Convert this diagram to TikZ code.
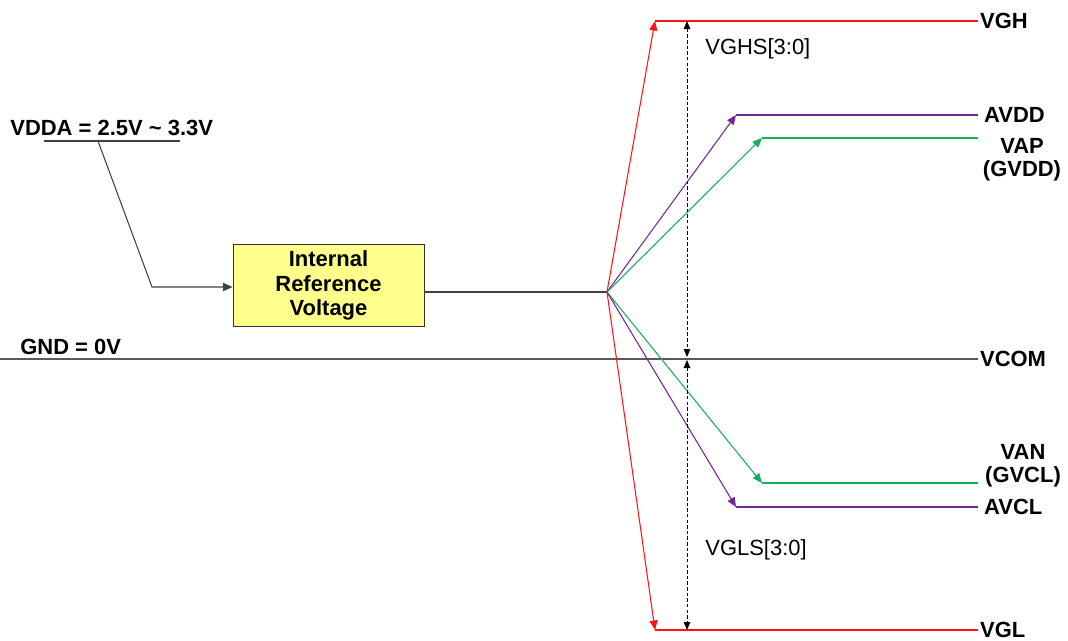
\documentclass[tikz,border=0pt]{standalone}
\usepackage{fontspec}
\setmainfont{Liberation Sans}
\usepackage{xcolor}
\usepackage{tikz}
\usetikzlibrary{arrows.meta, positioning, calc}
\definecolor{RailRed}{RGB}{255,20,20}
\definecolor{RailPurple}{RGB}{112,40,150}
\definecolor{RailGreen}{RGB}{20,175,90}
\definecolor{BoxYellow}{RGB}{255,255,140}
\tikzset{
    refbox/.style={rectangle, minimum width=3.82cm, minimum height=1.48cm, align=center,
        text centered, draw=black!80, fill=BoxYellow, font=\fontsize{12.5}{14}\selectfont\bfseries},
    railname/.style={anchor=west, inner sep=1pt, font=\fontsize{12.5}{14}\selectfont\bfseries},
    levelname/.style={inner sep=0pt, font=\fontsize{12.5}{14}\selectfont\bfseries},
    stepname/.style={anchor=west, inner sep=0pt, font=\fontsize{12.5}{14}\selectfont},
    feed/.style={-{Triangle[length=1.9mm, width=1.6mm]}, line width=0.6pt},
    rail/.style={line width=1.1pt},
    dimline/.style={{Triangle[length=1.6mm, width=1.3mm]}-{Triangle[length=1.6mm, width=1.3mm]},
        line width=0.5pt, dash pattern=on 2pt off 1.2pt},
    wire/.style={line width=0.6pt, black!75},
}
\begin{document}
\begin{tikzpicture}[x=0.02cm, y=-0.02cm]
    \useasboundingbox (0,0) rectangle (1068,640);

    % supply input and reference block
    \node[levelname, anchor=west] (vdda) at (10,128) {VDDA = 2.5V \textasciitilde\ 3.3V};
    \coordinate (ulineL) at (44,141);
    \coordinate (ulineR) at (180,141);
    \coordinate (tap) at (98,141);
    \coordinate (bend) at (152,287);
    \draw[wire] (ulineL) -- (ulineR);
    \node[refbox] (ref) at (328.5,285.5) {Internal\\Reference\\Voltage};
    \draw[wire, -{Triangle[length=1.9mm, width=1.6mm]}] (tap) -- (bend) -- (ref.west |- bend);

    \coordinate (hub) at (607,292);
    \draw[wire] (ref.east |- hub) -- (hub);

    % ground / common rail
    \node[levelname, anchor=west] (gnd) at (20,347) {GND = 0V};
    \coordinate (gndL) at (0,359);
    \node[railname] (vcom) at (978,359) {VCOM};
    \draw[line width=0.9pt, black!65] (gndL) -- (vcom.west);

    % output rails
    \coordinate (vghA) at (655,21);
    \coordinate (avddA) at (736,115);
    \coordinate (vapA) at (762,138);
    \coordinate (vanA) at (762,483);
    \coordinate (avclA) at (736,507);
    \coordinate (vglA) at (655,630);

    \node[railname] (vgh) at (978,21) {VGH};
    \node[railname] (avdd) at (982,115) {AVDD};
    \node[levelname] (vap) at (1022,146) {VAP};
    \node[levelname, below=3.5pt of vap] (gvdd) {(GVDD)};
    \node[levelname] (gvcl) at (1023,477) {(GVCL)};
    \node[levelname, above=3.5pt of gvcl] (van) {VAN};
    \node[railname] (avcl) at (982,507) {AVCL};
    \node[railname] (vgl) at (978,630) {VGL};

    \draw[feed, RailRed] (hub) -- (vghA);
    \draw[feed, RailPurple] (hub) -- (avddA);
    \draw[feed, RailGreen] (hub) -- (vapA);
    \draw[feed, RailGreen] (hub) -- (vanA);
    \draw[feed, RailPurple] (hub) -- (avclA);
    \draw[feed, RailRed] (hub) -- (vglA);

    \draw[rail, RailRed] (vghA) -- (vgh.west);
    \draw[rail, RailPurple] (avddA) -- (avdd.west -| vgh.west);
    \draw[rail, RailGreen] (vapA) -- (vapA -| vgh.west);
    \draw[rail, RailGreen] (vanA) -- (vanA -| vgh.west);
    \draw[rail, RailPurple] (avclA) -- (avcl.west -| vgh.west);
    \draw[rail, RailRed] (vglA) -- (vgl.west);

    % gate step ranges
    \coordinate (dimT) at (687,21);
    \coordinate (dimM) at (687,357);
    \coordinate (dimN) at (687,360);
    \coordinate (dimB) at (687,630);
    \draw[dimline] (dimT) -- (dimM);
    \draw[dimline] (dimN) -- (dimB);
    \node[stepname] (vghs) at (705,49) {VGHS[3:0]};
    \node[stepname] (vgls) at (705,550) {VGLS[3:0]};
\end{tikzpicture}
\end{document}
